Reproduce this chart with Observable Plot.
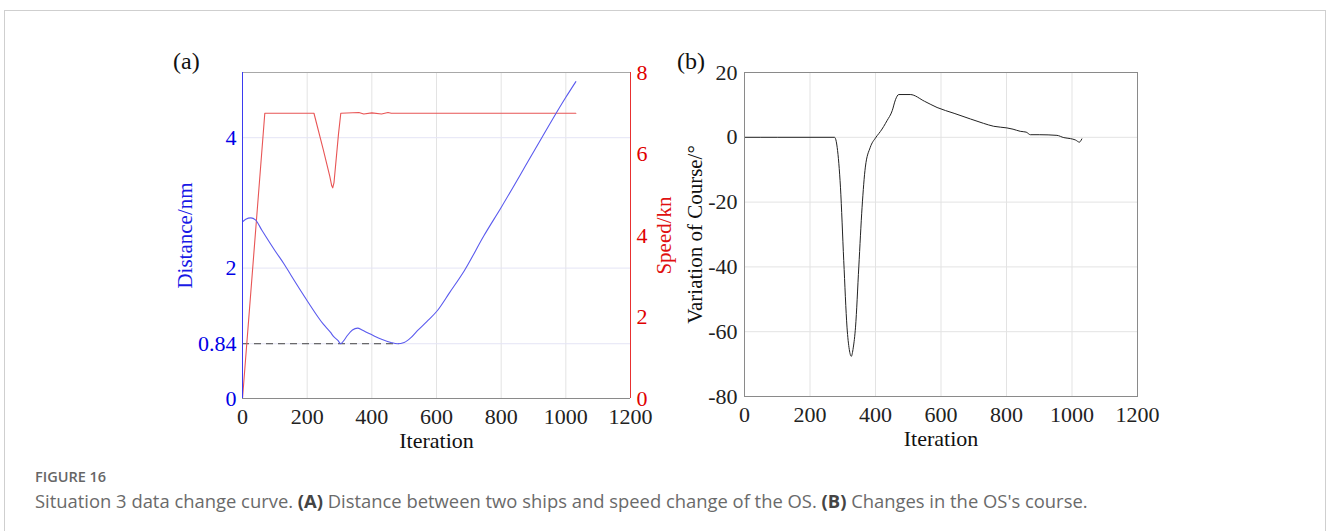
<!DOCTYPE html>
<html>
<head>
<meta charset="utf-8">
<script src="https://cdn.jsdelivr.net/npm/d3@7"></script>
<script src="https://cdn.jsdelivr.net/npm/@observablehq/plot@0.6"></script>
<style>
  html, body { margin: 0; padding: 0; background: #fff; }
  #page { position: relative; width: 1328px; height: 531px; overflow: hidden; }
  #border { position: absolute; left: 4px; top: 10px; width: 1322px; height: 600px; border: 1px solid #cfcfcf; box-sizing: border-box; }
  .panel { position: absolute; top: 40px; }
  .tag { position: absolute; font-family: "Liberation Serif", serif; font-size: 24px; color: #111; }
  #figlabel { position: absolute; left: 35px; top: 467px; font-family: "Open Sans", sans-serif; font-weight: 600; font-size: 14.5px; color: #666; }
  #caption { position: absolute; left: 35px; top: 488px; font-family: "Open Sans", sans-serif; font-size: 18.4px; color: #6a6a6a; white-space: nowrap; }
  #caption b { color: #444; font-weight: 700; }
</style>
</head>
<body>
<div id="page">
  <div id="border"></div>
  <div class="tag" style="left:173px; top:48px;">(a)</div>
  <div class="tag" style="left:677px; top:48px;">(b)</div>
  <div id="panelA" class="panel" style="left:140px;"></div>
  <div id="panelB" class="panel" style="left:640px;"></div>
  <div id="figlabel">FIGURE 16</div>
  <div id="caption">Situation 3 data change curve. <b>(A)</b> Distance between two ships and speed change of the OS. <b>(B)</b> Changes in the OS's course.</div>
</div>
<script>
// ---- data ----
const xTicks = [0, 200, 400, 600, 800, 1000, 1200];
const distTicks = [0, 0.84, 2, 4];
const speedTicks = [0, 2, 4, 6, 8];
const courseTicks = [-80, -60, -40, -20, 0, 20];
const safeDistance = 0.84;
const safeEndIter = 484;

const distIter = [0, 10, 26, 40, 60, 100, 129, 150, 200, 250, 273, 280, 295, 304, 312, 325, 340, 356, 370, 390, 407, 430, 459, 479, 500, 520, 541, 570, 603, 640, 686, 747, 800, 900, 1000, 1031];
const distVal  = [2.71, 2.75, 2.77, 2.74, 2.58, 2.27, 2.06, 1.89, 1.5, 1.14, 1.01, 0.96, 0.89, 0.84, 0.88, 0.97, 1.05, 1.08, 1.05, 1.0, 0.96, 0.91, 0.86, 0.84, 0.86, 0.93, 1.04, 1.18, 1.35, 1.62, 1.96, 2.5, 2.93, 3.78, 4.62, 4.86];

const speedIter = [0, 69, 221, 250, 270, 276, 279, 283, 290, 297, 304, 360, 375, 400, 430, 450, 460, 1031];
const speedVal  = [0, 7, 7, 6.1, 5.45, 5.22, 5.17, 5.3, 5.9, 6.5, 7, 7.02, 6.98, 7.01, 6.98, 7.02, 7, 7];

const courseIter = [0, 100, 200, 275, 283, 293, 303, 313, 320, 326, 332, 339, 349, 359, 369, 384, 400, 405, 415, 435, 451, 461, 471, 506, 550, 588, 640, 690, 730, 761, 801, 820, 842, 860, 873, 900, 954, 975, 995, 1010, 1023, 1026, 1030];
const courseVal  = [0, 0, 0, 0, -3.1, -15.4, -38, -58.6, -65.5, -67.6, -65, -58.6, -40, -21.6, -9.2, -3.1, -0.2, 0.5, 1.8, 5.1, 8.2, 11.6, 13.2, 13.2, 11.1, 9.2, 7.4, 5.65, 4.3, 3.4, 2.9, 2.5, 1.85, 1.6, 0.8, 0.8, 0.6, -0.1, -0.4, -0.8, -1.5, -1.2, -0.5];

// ---- derived tables ----
const distMax = 5, speedMax = 8, k = distMax / speedMax;
const distData = distIter.map((x, i) => ({x, y: distVal[i]}));
const speedData = speedIter.map((x, i) => ({x, y: speedVal[i] * k}));
const courseData = courseIter.map((x, i) => ({x, y: courseVal[i]}));

const serif = "'Liberation Serif', 'Times New Roman', serif";
const fmt = d => String(d);

const A = Plot.plot({
  width: 540, height: 420,
  marginLeft: 102, marginRight: 50, marginTop: 32, marginBottom: 62,
  style: {fontFamily: serif, fontSize: "22px", background: "transparent", overflow: "visible"},
  x: {domain: [0, 1200]},
  y: {domain: [0, distMax]},
  marks: [
    Plot.gridX(xTicks.slice(1, -1), {stroke: "#e3e3e3", strokeOpacity: 1}),
    Plot.gridY(distTicks.slice(1), {stroke: "#e4e4f5", strokeOpacity: 1}),
    Plot.ruleY([safeDistance], {x1: 0, x2: safeEndIter, stroke: "#444", strokeWidth: 1, strokeDasharray: "7,5"}),
    Plot.line(speedData, {x: "x", y: "y", stroke: "#e85555", strokeWidth: 1.1}),
    Plot.line(distData, {x: "x", y: "y", stroke: "#5a5aee", strokeWidth: 1.1, curve: "monotone-x"}),
    Plot.ruleY([0], {stroke: "#8a8a8a"}),
    Plot.ruleY([distMax], {stroke: "#a8a8a8"}),
    Plot.ruleX([0], {stroke: "#3b3bf0"}),
    Plot.ruleX([1200], {stroke: "#e83030"}),
    Plot.axisX({ticks: xTicks, tickSize: 0, tickPadding: 10, label: null, color: "#222", tickFormat: fmt}),
    Plot.axisY({ticks: distTicks, tickSize: 0, tickPadding: 6, label: null, color: "#0000e6", tickFormat: fmt}),
    Plot.axisY({anchor: "right", ticks: speedTicks.map(v => v * k), tickSize: 0, tickPadding: 6, label: null, color: "#e00000", tickFormat: d => String(Math.round(d / k))}),
    Plot.text(["Iteration"], {frameAnchor: "bottom", lineAnchor: "top", dy: 34, fontSize: 22, fill: "#111"}),
    Plot.text(["Distance/nm"], {frameAnchor: "left", rotate: -90, textAnchor: "middle", dx: -57, fontSize: 21, fill: "#1a1ae6"}),
    Plot.text(["Speed/kn"], {frameAnchor: "right", rotate: -90, textAnchor: "middle", dx: 34, fontSize: 21, fill: "#e01010"})
  ]
});
document.getElementById("panelA").appendChild(A);

const B = Plot.plot({
  width: 540, height: 420,
  marginLeft: 104, marginRight: 43, marginTop: 32, marginBottom: 64,
  style: {fontFamily: serif, fontSize: "22px", background: "transparent", overflow: "visible"},
  x: {domain: [0, 1200]},
  y: {domain: [-80, 20]},
  marks: [
    Plot.gridX(xTicks.slice(1, -1), {stroke: "#e3e3e3", strokeOpacity: 1}),
    Plot.gridY(courseTicks.slice(1, -1), {stroke: "#e3e3e3", strokeOpacity: 1}),
    Plot.line(courseData, {x: "x", y: "y", stroke: "#222", strokeWidth: 1, curve: "monotone-x"}),
    Plot.frame({stroke: "#8a8a8a"}),
    Plot.axisX({ticks: xTicks, tickSize: 0, tickPadding: 10, label: null, color: "#222", tickFormat: fmt}),
    Plot.axisY({ticks: courseTicks, tickSize: 0, tickPadding: 7, label: null, color: "#222", tickFormat: fmt}),
    Plot.text(["Iteration"], {frameAnchor: "bottom", lineAnchor: "top", dy: 34, fontSize: 22, fill: "#111"}),
    Plot.text(["Variation of Course/°"], {frameAnchor: "left", rotate: -90, textAnchor: "middle", dx: -49, fontSize: 21, fill: "#111"})
  ]
});
document.getElementById("panelB").appendChild(B);
</script>
</body>
</html>
